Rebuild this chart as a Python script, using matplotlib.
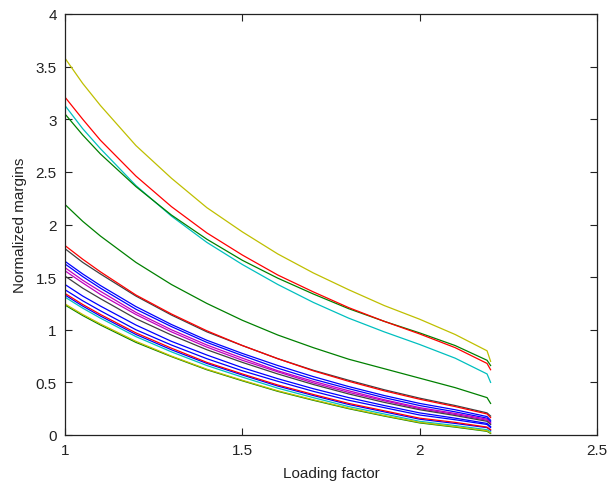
import matplotlib
matplotlib.use("Agg")
import matplotlib.pyplot as plt

plt.rcParams['font.family'] = ['Liberation Sans', 'DejaVu Sans']

# Loading factor samples (x axis)
loading = [1.0, 1.05, 1.1, 1.2, 1.3, 1.4, 1.5, 1.6, 1.7, 1.8, 1.9, 2.0, 2.1, 2.19, 2.2]

# Normalized margin curves, one per case
m_yellow_top = [3.58, 3.34, 3.13, 2.75, 2.44, 2.16, 1.93, 1.72, 1.54, 1.38, 1.23, 1.10, 0.955, 0.80, 0.70]
m_red_top = [3.21, 3.00, 2.80, 2.46, 2.17, 1.92, 1.71, 1.52, 1.36, 1.21, 1.08, 0.96, 0.83, 0.68, 0.62]
m_cyan_top = [3.13, 2.91, 2.72, 2.37, 2.08, 1.83, 1.62, 1.43, 1.26, 1.11, 0.98, 0.86, 0.73, 0.58, 0.50]
m_green_top = [3.05, 2.85, 2.67, 2.36, 2.09, 1.86, 1.66, 1.49, 1.34, 1.20, 1.08, 0.97, 0.85, 0.71, 0.66]
m_green_mid = [2.19, 2.03, 1.89, 1.64, 1.43, 1.25, 1.09, 0.95, 0.83, 0.72, 0.63, 0.54, 0.45, 0.355, 0.30]
m_red_a = [1.80, 1.67, 1.55, 1.33, 1.15, 0.99, 0.85, 0.725, 0.61, 0.51, 0.42, 0.34, 0.27, 0.20, 0.165]
m_gray_a = [1.77, 1.64, 1.53, 1.32, 1.14, 0.98, 0.85, 0.725, 0.615, 0.52, 0.43, 0.35, 0.28, 0.21, 0.18]
m_blue_a = [1.65, 1.53, 1.42, 1.22, 1.05, 0.90, 0.775, 0.66, 0.555, 0.46, 0.375, 0.30, 0.24, 0.175, 0.14]
m_blue_b = [1.625, 1.505, 1.395, 1.195, 1.03, 0.88, 0.755, 0.635, 0.53, 0.44, 0.355, 0.28, 0.22, 0.16, 0.125]
m_magenta_a = [1.59, 1.47, 1.365, 1.165, 1.00, 0.855, 0.73, 0.61, 0.51, 0.42, 0.335, 0.26, 0.205, 0.15, 0.115]
m_magenta_b = [1.56, 1.445, 1.335, 1.145, 0.98, 0.835, 0.71, 0.60, 0.495, 0.405, 0.325, 0.25, 0.195, 0.14, 0.105]
m_gray_b = [1.51, 1.395, 1.295, 1.105, 0.95, 0.81, 0.69, 0.58, 0.48, 0.39, 0.31, 0.24, 0.185, 0.13, 0.10]
m_blue_c = [1.43, 1.32, 1.225, 1.045, 0.89, 0.76, 0.64, 0.535, 0.44, 0.355, 0.28, 0.21, 0.16, 0.11, 0.08]
m_blue_d = [1.38, 1.275, 1.18, 1.00, 0.855, 0.725, 0.61, 0.51, 0.415, 0.33, 0.26, 0.19, 0.145, 0.10, 0.07]
m_red_b = [1.345, 1.24, 1.145, 0.97, 0.825, 0.69, 0.58, 0.475, 0.385, 0.30, 0.23, 0.16, 0.12, 0.075, 0.05]
m_blue_e = [1.33, 1.225, 1.13, 0.955, 0.81, 0.68, 0.57, 0.465, 0.375, 0.29, 0.22, 0.15, 0.11, 0.07, 0.045]
m_cyan_b = [1.31, 1.205, 1.11, 0.935, 0.79, 0.66, 0.55, 0.445, 0.355, 0.27, 0.20, 0.13, 0.09, 0.05, 0.03]
m_yellow_b = [1.245, 1.145, 1.055, 0.89, 0.75, 0.625, 0.52, 0.42, 0.335, 0.255, 0.185, 0.12, 0.08, 0.04, 0.02]
m_green_b = [1.235, 1.135, 1.045, 0.88, 0.745, 0.62, 0.515, 0.415, 0.33, 0.25, 0.18, 0.115, 0.075, 0.035, 0.015]

# Classic MATLAB line colours
C_B = (0.0, 0.0, 1.0)
C_G = (0.0, 0.5, 0.0)
C_R = (1.0, 0.0, 0.0)
C_C = (0.0, 0.75, 0.75)
C_M = (0.75, 0.0, 0.75)
C_Y = (0.75, 0.75, 0.0)
C_K = (0.25, 0.25, 0.25)

curves = [
    (m_blue_a, C_B), (m_blue_b, C_B), (m_blue_c, C_B), (m_blue_d, C_B), (m_blue_e, C_B),
    (m_magenta_a, C_M), (m_magenta_b, C_M),
    (m_gray_b, C_K), (m_red_b, C_R), (m_cyan_b, C_C),
    (m_green_b, C_G), (m_yellow_b, C_Y),
    (m_gray_a, C_K), (m_red_a, C_R),
    (m_green_mid, C_G),
    (m_cyan_top, C_C), (m_green_top, C_G), (m_red_top, C_R), (m_yellow_top, C_Y),
]

fig = plt.figure(figsize=(6.11, 4.85), dpi=100)
ax = fig.add_axes([65 / 611, 49 / 485, 532 / 611, 421 / 485])

for vals, col in curves:
    ax.plot(loading, vals, color=col, linewidth=0.9)

ax.set_xlim(1, 2.5)
ax.set_ylim(0, 4)
ax.set_xticks([1, 1.5, 2, 2.5])
ax.set_xticklabels(['1', '1.5', '2', '2.5'])
ax.set_yticks([0, 0.5, 1, 1.5, 2, 2.5, 3, 3.5, 4])
ax.set_yticklabels(['0', '0.5', '1', '1.5', '2', '2.5', '3', '3.5', '4'])
ax.tick_params(direction='in', length=5, width=0.8, top=True, right=True,
               labelsize=11, pad=6, colors='#222222')
for sp in ax.spines.values():
    sp.set_linewidth(0.9)
    sp.set_color('#222222')

ax.set_xlabel('Loading factor', fontsize=11, labelpad=6, color='#222222')
ax.set_ylabel('Normalized margins', fontsize=11, labelpad=6, color='#222222')

fig.savefig('out.png', dpi=100)
